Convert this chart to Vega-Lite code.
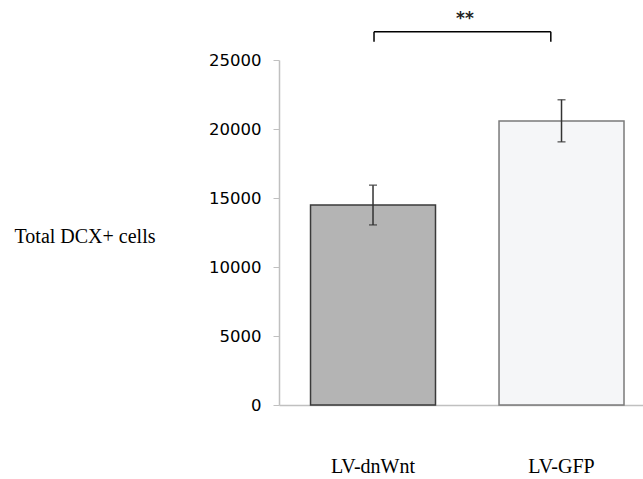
{
  "$schema": "https://vega.github.io/schema/vega-lite/v6.json",
  "autosize": {"type": "none"},
  "padding": {"left": 279, "top": 60, "right": 0, "bottom": 74},
  "width": 364,
  "height": 345,
  "background": "white",
  "config": {"view": {"stroke": null}},
  "datasets": {
    "bars": [
      {"group": "LV-dnWnt", "mean": 14500, "lo": 13050, "hi": 15930},
      {"group": "LV-GFP", "mean": 20580, "lo": 19070, "hi": 22120}
    ]
  },
  "data": {"name": "bars"},
  "encoding": {
    "x": {
      "field": "group",
      "type": "nominal",
      "sort": ["LV-dnWnt", "LV-GFP"],
      "scale": {"domain": ["LV-dnWnt", "LV-GFP"], "paddingInner": 0.337, "paddingOuter": 0.134, "align": 0.624},
      "axis": {
        "title": null,
        "labelAngle": 0,
        "labelFont": "Liberation Serif",
        "labelFontSize": 20,
        "labelColor": "black",
        "labelPadding": 51,
        "ticks": false,
        "domainColor": "#c0c0c0",
        "domainWidth": 1.5,
        "encode": {"labels": {"update": {"dx": {"signal": "datum.value == 'LV-GFP' ? 8 : -5"}}}}
      }
    }
  },
  "layer": [
    {
      "mark": {"type": "bar", "strokeWidth": 1.5},
      "encoding": {
        "y": {
          "field": "mean",
          "type": "quantitative",
          "scale": {"domain": [0, 25000], "nice": false},
          "axis": {
            "values": [0, 5000, 10000, 15000, 20000, 25000],
            "format": "d",
            "grid": false,
            "title": "Total DCX+ cells",
            "titleAngle": 0,
            "titleAlign": "left",
            "titleBaseline": "alphabetic",
            "titleX": -265,
            "titleY": 182,
            "titleFont": "Liberation Serif",
            "titleFontSize": 20,
            "titleFontWeight": "normal",
            "titleColor": "black",
            "labelFont": "DejaVu Sans",
            "labelFontSize": 16.5,
            "labelColor": "black",
            "labelPadding": 12,
            "tickSize": 6,
            "tickColor": "#c0c0c0",
            "domainColor": "#c0c0c0",
            "domainWidth": 1.5
          }
        },
        "color": {
          "field": "group",
          "type": "nominal",
          "scale": {"domain": ["LV-dnWnt", "LV-GFP"], "range": ["#b4b4b4", "#f5f6f8"]},
          "legend": null
        },
        "stroke": {
          "field": "group",
          "type": "nominal",
          "scale": {"domain": ["LV-dnWnt", "LV-GFP"], "range": ["#3a3a3a", "#7a7a7a"]},
          "legend": null
        }
      }
    },
    {
      "mark": {"type": "rule", "color": "#333333", "strokeWidth": 1.5},
      "encoding": {
        "y": {"field": "lo", "type": "quantitative"},
        "y2": {"field": "hi"}
      }
    },
    {
      "mark": {"type": "tick", "orient": "horizontal", "size": 8, "thickness": 1.5, "color": "#333333"},
      "encoding": {"y": {"field": "lo", "type": "quantitative"}}
    },
    {
      "mark": {"type": "tick", "orient": "horizontal", "size": 8, "thickness": 1.5, "color": "#333333"},
      "encoding": {"y": {"field": "hi", "type": "quantitative"}}
    },
    {
      "data": {"values": [{"a": "LV-dnWnt", "b": "LV-GFP", "top": 27043, "foot": 26320}]},
      "mark": {"type": "rule", "color": "black", "strokeWidth": 1.5, "xOffset": 1, "x2Offset": -10.7, "clip": false},
      "encoding": {
        "x": {"field": "a", "type": "nominal", "sort": ["LV-dnWnt", "LV-GFP"]},
        "x2": {"field": "b"},
        "y": {"field": "top", "type": "quantitative"}
      }
    },
    {
      "data": {"values": [{"a": "LV-dnWnt", "top": 27043, "foot": 26320}]},
      "mark": {"type": "rule", "color": "black", "strokeWidth": 1.5, "xOffset": 1, "clip": false},
      "encoding": {
        "x": {"field": "a", "type": "nominal", "sort": ["LV-dnWnt", "LV-GFP"]},
        "y": {"field": "top", "type": "quantitative"},
        "y2": {"field": "foot"}
      }
    },
    {
      "data": {"values": [{"a": "LV-GFP", "top": 27043, "foot": 26320}]},
      "mark": {"type": "rule", "color": "black", "strokeWidth": 1.5, "xOffset": -10.7, "clip": false},
      "encoding": {
        "x": {"field": "a", "type": "nominal", "sort": ["LV-dnWnt", "LV-GFP"]},
        "y": {"field": "top", "type": "quantitative"},
        "y2": {"field": "foot"}
      }
    },
    {
      "data": {"values": [{"a": "LV-dnWnt", "pos": 27600, "label": "**"}]},
      "mark": {"type": "text", "font": "DejaVu Sans", "fontSize": 17, "fontWeight": "bold", "color": "#222222", "baseline": "alphabetic", "align": "center", "xOffset": 92, "clip": false},
      "encoding": {
        "x": {"field": "a", "type": "nominal", "sort": ["LV-dnWnt", "LV-GFP"]},
        "y": {"field": "pos", "type": "quantitative"},
        "text": {"field": "label"}
      }
    }
  ]
}
